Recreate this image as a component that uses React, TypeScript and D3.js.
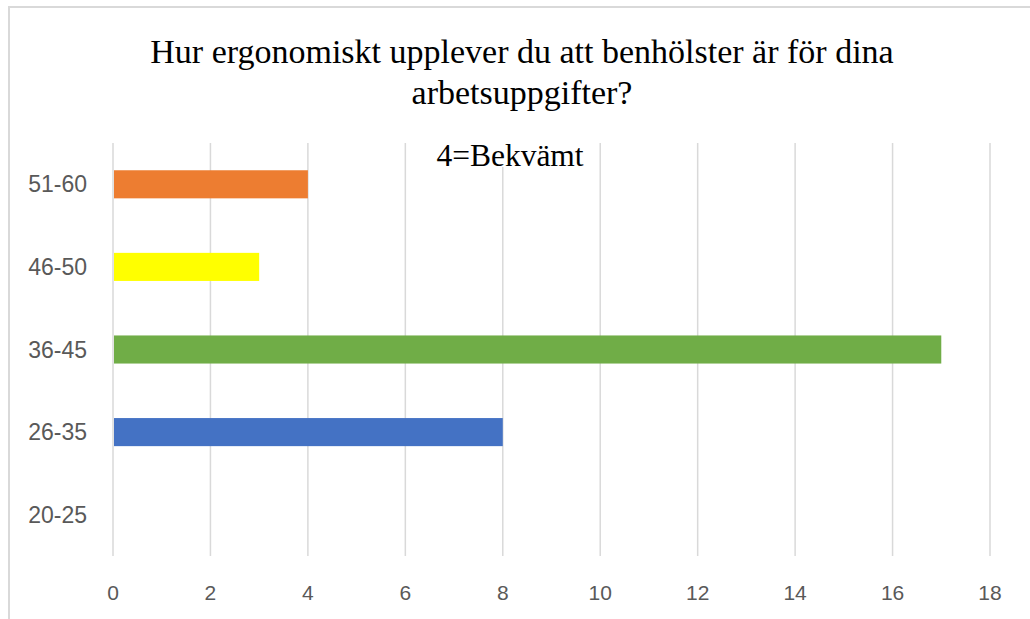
import * as d3 from 'd3';

const categories = ['51-60', '46-50', '36-45', '26-35', '20-25'];
const values = [4, 3, 17, 8, 0];
const barColors = ['#ED7D31', '#FFFF00', '#70AD47', '#4472C4', '#A5A5A5'];
const xTicks = [0, 2, 4, 6, 8, 10, 12, 14, 16, 18];
const titleLines = ['Hur ergonomiskt upplever du att benhölster är för dina', 'arbetsuppgifter?'];
const subtitle = '4=Bekvämt';

const W = 1030;
const H = 619;
const plot = { left: 113, right: 990, top: 143, bottom: 556 };

const App = () => {
	const x = d3.scaleLinear().domain([0, 18]).range([plot.left, plot.right]);
	const y = d3
		.scaleBand()
		.domain(categories)
		.range([plot.top, plot.bottom])
		.paddingInner(0.66)
		.paddingOuter(0.33);

	const sans = '"Liberation Sans", Arial, sans-serif';
	const serif = '"Liberation Serif", "Times New Roman", serif';

	return (
		<svg
			width={W}
			height={H}
			style={{ position: 'absolute', left: 0, top: 0, background: '#fff' }}
		>
			{/* frame of the cropped chart */}
			<line x1={8} x2={W} y1={7} y2={7} stroke='#d9d9d9' strokeWidth={2} />
			<line x1={9} x2={9} y1={7} y2={H} stroke='#d9d9d9' strokeWidth={2} />

			{/* title */}
			{titleLines.map((t, i) => (
				<text
					key={t}
					x={522}
					y={63 + i * 41}
					textAnchor='middle'
					fontFamily={serif}
					fontSize={34}
					fill='#000'
				>
					{t}
				</text>
			))}

			{/* gridlines */}
			{xTicks.map((t) => (
				<line
					key={t}
					x1={x(t)}
					x2={x(t)}
					y1={plot.top}
					y2={plot.bottom}
					stroke='#d9d9d9'
					strokeWidth={1.5}
				/>
			))}

			{/* bars */}
			{categories.map((c, i) => (
				<rect
					key={c}
					x={x(0) + 1}
					y={y(c)}
					width={Math.max(0, x(values[i]) - x(0) - 1)}
					height={y.bandwidth()}
					fill={barColors[i]}
				/>
			))}

			{/* category labels */}
			{categories.map((c) => (
				<text
					key={c}
					x={87}
					y={(y(c) ?? 0) + y.bandwidth() / 2}
					dy='0.35em'
					textAnchor='end'
					fontFamily={sans}
					fontSize={23}
					fill='#595959'
				>
					{c}
				</text>
			))}

			{/* x tick labels */}
			{xTicks.map((t) => (
				<text
					key={t}
					x={x(t)}
					y={600}
					textAnchor='middle'
					fontFamily={sans}
					fontSize={21}
					fill='#595959'
				>
					{t}
				</text>
			))}

			{/* subtitle box */}
			<rect x={430} y={138} width={162} height={29} fill='#fff' />
			<text
				x={510}
				y={166}
				textAnchor='middle'
				fontFamily={serif}
				fontSize={31.5}
				fill='#000'
			>
				{subtitle}
			</text>
		</svg>
	);
};

export default App;
